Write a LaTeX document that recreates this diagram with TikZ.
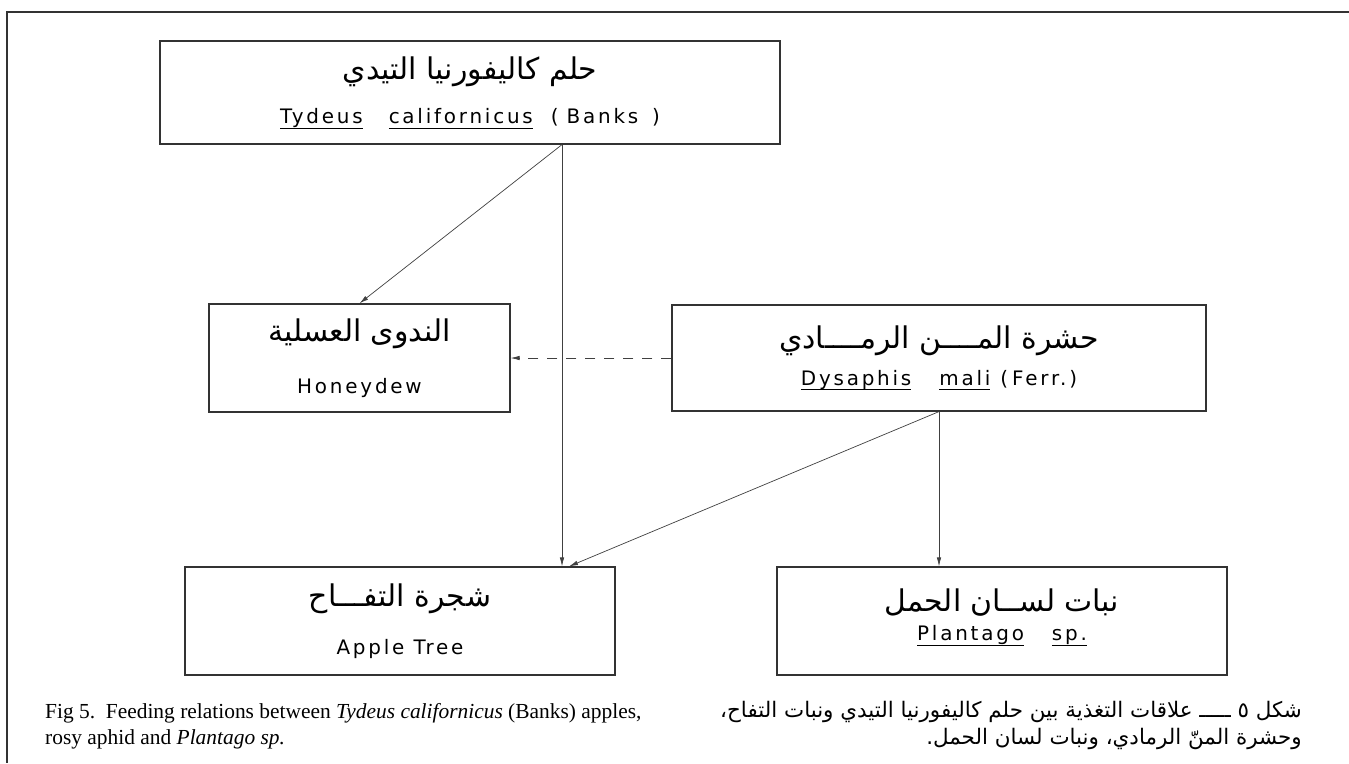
\documentclass[tikz,border=0pt]{standalone}
\usepackage{fontspec}
\usepackage{tikz}
\usetikzlibrary{arrows.meta}
\TeXXeTstate=1
\setmainfont{Liberation Serif}
\newfontfamily\arfont[Script=Arabic]{DejaVu Sans}
\newfontfamily\latfont[LetterSpace=14]{DejaVu Sans}
\newcommand{\ulword}[1]{\setbox0\hbox{#1}\rlap{\rule[-5bp]{\wd0}{1bp}}\box0}
\newcommand{\artitle}[1]{{\fontsize{30}{34}\arfont\beginR #1\endR}}
\newcommand{\lattitle}[1]{{\fontsize{20}{24}\latfont #1}}

\begin{document}
\begin{tikzpicture}[x=1bp, y=-1bp,
    box/.style={draw=black!80, line width=1.2bp, align=center, inner sep=0pt},
    feeds/.style={draw=black!75, line width=0.7bp, -{Latex[length=9bp,width=4.5bp]}}]
    \useasboundingbox[fill=white] (0,0) rectangle (1349,763);

    % frame
    \draw[line width=1.2bp, black!80] (1349,12) -- (7,12) -- (7,763);

    % boxes
    \node[box, minimum width=620bp, minimum height=103bp] (mite) at (470,92.5)
        {\artitle{حلم كاليفورنيا التيدي}\\[21bp]
         \lattitle{\ulword{Tydeus}\hspace{26bp}\ulword{californicus}\hspace{18bp}(\hspace{8bp}Banks\hspace{14bp})}};
    \node[box, minimum width=301bp, minimum height=108bp] (honeydew) at (359.5,358)
        {\artitle{الندوى العسلية}\\[28bp]
         \lattitle{Honeydew}};
    \node[box, minimum width=534bp, minimum height=106bp] (aphid) at (939,358)
        {\artitle{حشرة المــــن الرمــــادي}\\[13bp]
         \lattitle{\ulword{Dysaphis}\hspace{28bp}\ulword{mali}\hspace{10bp}(\hspace{4bp}Ferr.)}};
    \node[box, minimum width=430bp, minimum height=108bp] (apple) at (400,621)
        {\artitle{شجرة التفـــاح}\\[24bp]
         \lattitle{Apple Tree}};
    \node[box, minimum width=450bp, minimum height=108bp] (plantago) at (1002,621)
        {\artitle{نبات لســان الحمل}\\[8bp]
         \lattitle{\ulword{Plantago}\hspace{28bp}\ulword{sp.}}\\[0bp]
         \rule{0pt}{4bp}};

    % feeding relations
    \coordinate (mitefoot) at ([xshift=92bp]mite.south);
    \draw[feeds] (mitefoot) -- (honeydew.north);
    \draw[feeds] (mitefoot) -- (mitefoot |- apple.north);
    \draw[feeds] (aphid.south) -- (aphid.south |- plantago.north);
    \draw[feeds] (aphid.south) -- ([xshift=7bp]mitefoot |- apple.north);
    \draw[feeds, dash pattern=on 10bp off 9bp] (aphid.west) -- (honeydew.east);

    % captions
    \node[anchor=north west, inner sep=0pt, align=left, font=\fontsize{21.5}{26}\selectfont] (engcap) at (45,703)
        {Fig 5.\ \ Feeding relations between \textit{Tydeus californicus} (Banks) apples,\\
         rosy aphid and \textit{Plantago sp.}};
    \node[anchor=north east, inner sep=0pt, align=right, font=\fontsize{21.5}{27}\arfont] (arcap) at (1302,701)
        {\beginR شكل ٥ ـــــ علاقات التغذية بين حلم كاليفورنيا التيدي ونبات التفاح،\endR\\
         \beginR وحشرة المنّ الرمادي، ونبات لسان الحمل.\endR};
\end{tikzpicture}
\end{document}
